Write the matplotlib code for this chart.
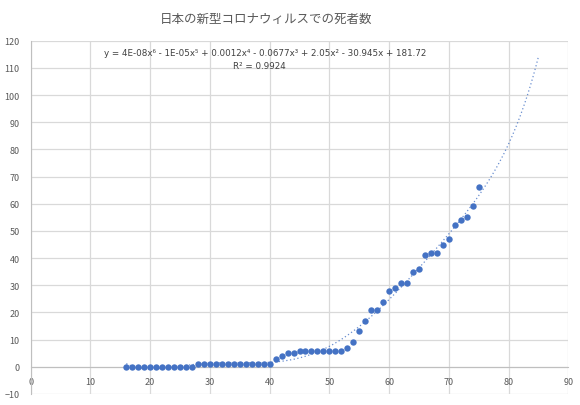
import matplotlib
matplotlib.use('Agg')
import matplotlib.pyplot as plt
import numpy as np

plt.rcParams['font.family'] = ['Noto Sans CJK JP', 'DejaVu Sans']

# daily deaths (day index -> count)
days = list(range(16, 76))
deaths = ([0] * 12 + [1] * 13 +
          [3, 4, 5, 5, 6, 6, 6, 6, 6, 6, 6, 6,
           7, 9, 13, 17, 21, 21, 24, 28, 29, 31, 31, 35, 36,
           41, 42, 42, 45, 47, 52, 54, 55, 59, 66])

title = '日本の新型コロナウィルスでの死者数'
equation = 'y = 4E-08x⁶ - 1E-05x⁵ + 0.0012x⁴ - 0.0677x³ + 2.05x² - 30.945x + 181.72'
r2_text = 'R² = 0.9924'
x_ticks = list(range(0, 100, 10))
y_ticks = list(range(-10, 130, 10))

blue = '#4472C4'
grey_text = '#595959'
grid_col = '#d9d9d9'

fig = plt.figure(figsize=(5.8, 4.06), dpi=100)
ax = fig.add_axes([0.0529, 0.0271, 0.927, 0.8702])

ax.set_xlim(0, 90)
ax.set_ylim(-10, 120)
ax.set_xticks(x_ticks)
ax.set_yticks(y_ticks)
ax.grid(True, color=grid_col, linewidth=0.9)
ax.set_axisbelow(True)

for side in ['top', 'right']:
    ax.spines[side].set_visible(False)
ax.spines['left'].set_color('#bfbfbf')
ax.spines['bottom'].set_color('#bfbfbf')
ax.spines['bottom'].set_position(('data', 0))
ax.tick_params(length=0, labelsize=6.5, labelcolor=grey_text)
ax.tick_params(axis='x', pad=7)
ax.tick_params(axis='y', pad=8)

# 6th order polynomial trendline, forecast forward 10
coef = np.polyfit(days, deaths, 6)
xt = np.linspace(min(days), max(days) + 10, 300)
ax.plot(xt, np.polyval(coef, xt), color=blue, linewidth=0.9,
        linestyle=(0, (1, 2)), alpha=0.8, zorder=2)

ax.plot(days, deaths, 'o', color=blue, markersize=4.6,
        markeredgewidth=0, zorder=3)

fig.text(0.459, 0.953, title, ha='center', va='center',
         fontsize=9, color=grey_text)
fig.text(0.457, 0.869, equation, ha='center', va='center',
         fontsize=6.3, color='#404040', family=['DejaVu Sans'])
fig.text(0.448, 0.835, r2_text, ha='center', va='center',
         fontsize=6.3, color='#404040', family=['DejaVu Sans'])

fig.savefig('out.png', dpi=100)
